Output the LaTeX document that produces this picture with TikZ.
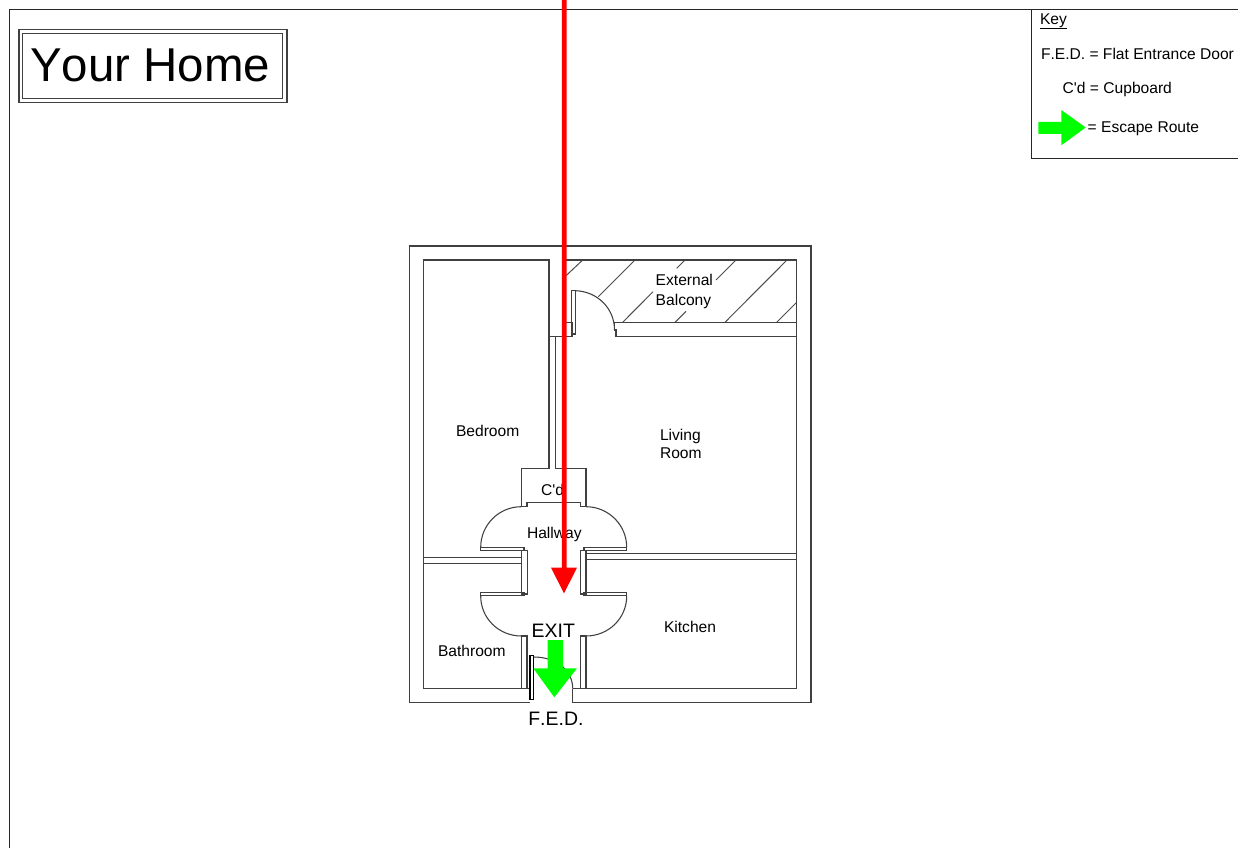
\documentclass[tikz,border=0pt]{standalone}
\usepackage{fontspec}
\setmainfont{Liberation Sans}[Ligatures=TeXOff,Kerning=Off]
\tikzset{
  wall/.style={draw=black!75,line width=1pt,line join=miter},
  hatch/.style={draw=black!70,line width=0.75pt},
  swing/.style={draw=black!75,line width=0.8pt},
  room/.style={anchor=base west,inner sep=0pt,outer sep=0pt,font=\fontsize{11.7pt}{14pt}\selectfont,text=black},
  bigl/.style={anchor=base west,inner sep=0pt,outer sep=0pt,font=\fontsize{14.6pt}{17pt}\selectfont,text=black},
  redarrow/.style={fill=red,draw=none},
  greenarrow/.style={fill=green,draw=none}
}
\begin{document}
\begin{tikzpicture}[x=0.75pt,y=-0.75pt]
\useasboundingbox (0,0) rectangle (1238,848);
\fill[white] (0,0) rectangle (1238,848);
% sheet frame
\draw[wall,draw=black!85] (1238,9.7) -- (9.7,9.7) -- (9.7,848);
% key box
\draw[wall,draw=black!85] (1031.3,9.7) -- (1031.3,158.7) -- (1238,158.7);
% title box
\draw[wall] (19,29.3) rectangle (287,102.7);
\draw[wall] (22.7,33.3) rectangle (282.7,98.3);
\node[anchor=base west,inner sep=0pt,font=\fontsize{35.6pt}{40pt}\selectfont] (title) at (30,82) {Your Home};
% hatching
\draw[hatch] (565.7,276) -- (582.7,260);
\draw[hatch] (598.3,296.7) -- (635,260);
\draw[hatch] (622.7,322.3) -- (653,291.7);
\draw[hatch] (676.7,268.3) -- (685,260);
\draw[hatch] (675,322.3) -- (686,311.3);
\draw[hatch] (716,280) -- (736,260);
\draw[hatch] (725,322.3) -- (787,260);
\draw[hatch] (776.7,322.3) -- (796.7,302.3);
% outer walls
\draw[wall] (530,702.7) -- (409.5,702.7) -- (409.5,246) -- (811,246) -- (811,702.7) -- (572.7,702.7) -- (572.7,688.7);
% bedroom + bathroom outline
\draw[wall] (530,688.7) -- (423.7,688.7) -- (423.7,260) -- (549,260) -- (549,336.7) -- (572,336.7) -- (572,322.3) -- (564,322.3) -- (564,260) -- (796.7,260) -- (796.7,688.7) -- (572.7,688.7);
% balcony edge
\draw[wall] (796.7,322.3) -- (614.5,322.3) -- (614.5,330) -- (616,330) -- (616,336.7) -- (796.7,336.7);
% balcony door
\draw[wall] (571.8,290.7) rectangle (575.7,334);
\draw[swing] (575.7,290.7) .. controls (597,291.5) and (614.5,308) .. (614.5,330);
% partition to cupboard
\draw[wall] (549,336.7) -- (549,468.7) -- (521.3,468.7) -- (521.3,506.7) -- (527,506.7) -- (527,502.3) -- (580.7,502.3) -- (580.7,506.7) -- (586,506.7) -- (586,468.7) -- (555.3,468.7) -- (555.3,336.7);
% hallway door arcs
\draw[swing] (521.3,506.7) .. controls (498.9,506.7) and (480.7,524.9) .. (480.7,547.3);
\draw[swing] (586,506.7) .. controls (608.4,506.7) and (626.7,524.9) .. (626.7,547.3);
\draw[swing] (480.7,596) .. controls (480.7,618.4) and (498.9,636) .. (521.3,636);
\draw[swing] (626.7,596) .. controls (626.7,618.4) and (608.4,636) .. (586,636);
% door leaves
\draw[wall] (480.7,547.3) rectangle (524,550.7);
\draw[wall] (584,547.3) rectangle (626.7,550.7);
\draw[wall] (480.7,592.7) rectangle (524,595.7);
\draw[wall] (584,592.7) rectangle (626.7,595.7);
% wall stubs
\draw[wall] (521.3,550.7) rectangle (527.3,594);
\draw[wall] (580.3,550.7) rectangle (586,594);
\draw[wall] (521.3,688.7) -- (521.3,636) -- (527,636) -- (527,688.7);
\draw[wall] (580.3,688.7) -- (580.3,636) -- (586,636) -- (586,688.7);
% bathroom and kitchen walls
\draw[wall] (423.7,557.7) -- (521.3,557.7);
\draw[wall] (423.7,563.3) -- (521.3,563.3);
\draw[wall] (586,553.3) -- (796.7,553.3);
\draw[wall] (586,559.3) -- (796.7,559.3);
% entrance door
\draw[wall,draw=black,fill=white] (530,655.7) rectangle (533.7,699.3);
\draw[swing] (533.7,657) .. controls (556,657) and (572.7,670) .. (572.7,688.7);
% labels
\node[room] (bedroom) at (456,436.7) {Bedroom};
\node[room] (external) at (655.7,286) {External};
\node[room] (balcony) at (655.7,306) {Balcony};
\node[room] (living) at (660,440) {Living};
\node[room] (lroom) at (660,458) {Room};
\node[room] (cupb) at (541,495.7) {C'd};
\node[room] (hallway) at (527,538) {Hallway};
\node[room] (kitchen) at (664,632.7) {Kitchen};
\node[room] (bathroom) at (438,656) {Bathroom};
\node[bigl] (exit) at (531.7,637.3) {EXIT};
\node[bigl] (fed) at (528.3,725) {F.E.D.};
\node[room] (keyhead) at (1040,25) {Key};
\draw[black,line width=0.8pt] (1040,28.5) -- (1067,28.5);
\node[room] (keyfed) at (1041,59.3) {F.E.D. = Flat Entrance Door};
\node[room] (keycd) at (1062.7,93.7) {C'd = Cupboard};
\node[room] (keyroute) at (1087.7,132.4) {= Escape Route};
% arrows
\fill[redarrow] (561.8,0) -- (566.5,0) -- (566.5,567.7) -- (577,567.7) -- (564,593.3) -- (551,567.7) -- (561.8,567.7) -- cycle;
\fill[greenarrow] (547.7,640) -- (563,640) -- (563,668.3) -- (577,668.3) -- (554.3,697.3) -- (533.3,668.3) -- (547.7,668.3) -- cycle;
\fill[greenarrow] (1038.3,122) -- (1061.3,122) -- (1061.3,110) -- (1085.7,127.5) -- (1061.3,145.3) -- (1061.3,134) -- (1038.3,134) -- cycle;
\end{tikzpicture}
\end{document}
